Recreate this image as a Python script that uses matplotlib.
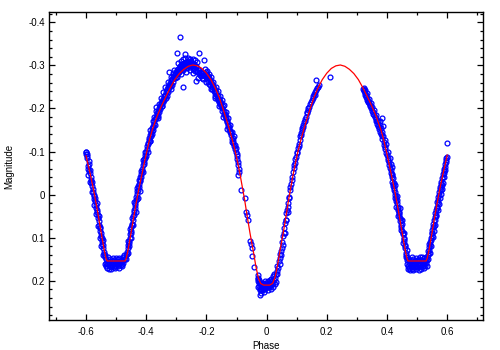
import matplotlib
matplotlib.use("Agg")
import matplotlib.pyplot as plt
from matplotlib.ticker import MultipleLocator, FuncFormatter

# ---------------- data ----------------
# model light curve (phase, magnitude)
model_phase = [-0.600, -0.594, -0.586, -0.576, -0.566, -0.557, -0.548, -0.540, -0.534, -0.530,
               -0.500, -0.470, -0.466, -0.460, -0.452, -0.443, -0.434, -0.424, -0.414, -0.406,
               -0.398, -0.390, -0.380, -0.365, -0.350, -0.335, -0.320, -0.305, -0.290, -0.275,
               -0.260, -0.245, -0.230, -0.215, -0.200, -0.185, -0.171, -0.157, -0.144, -0.135,
               -0.125, -0.115, -0.104, -0.096, -0.088, -0.080, -0.073, -0.065, -0.055, -0.045,
               -0.036, -0.028, -0.020, -0.010, 0.000, 0.010, 0.020, 0.028, 0.036, 0.045,
               0.055, 0.065, 0.073, 0.080, 0.088, 0.096, 0.104, 0.115, 0.125, 0.135,
               0.144, 0.157, 0.171, 0.185, 0.200, 0.215, 0.230, 0.245, 0.260, 0.275,
               0.290, 0.305, 0.320, 0.335, 0.350, 0.365, 0.380, 0.390, 0.398, 0.406,
               0.414, 0.424, 0.434, 0.443, 0.452, 0.460, 0.466, 0.470, 0.500, 0.530,
               0.534, 0.540, 0.548, 0.557, 0.566, 0.576, 0.586, 0.594, 0.600]
model_mag = [-0.090, -0.072, -0.048, -0.015, 0.022, 0.058, 0.095, 0.127, 0.147, 0.154,
             0.154, 0.154, 0.147, 0.127, 0.095, 0.058, 0.022, -0.015, -0.048, -0.075,
             -0.100, -0.125, -0.150, -0.180, -0.205, -0.227, -0.248, -0.267, -0.281, -0.291,
             -0.298, -0.301, -0.299, -0.293, -0.282, -0.267, -0.248, -0.225, -0.198, -0.178,
             -0.155, -0.130, -0.100, -0.074, -0.046, -0.015, 0.012, 0.048, 0.090, 0.128,
             0.165, 0.192, 0.206, 0.210, 0.210, 0.210, 0.206, 0.192, 0.165, 0.128,
             0.090, 0.048, 0.012, -0.015, -0.046, -0.074, -0.100, -0.130, -0.155, -0.178,
             -0.198, -0.225, -0.248, -0.267, -0.282, -0.293, -0.299, -0.301, -0.298, -0.291,
             -0.281, -0.267, -0.248, -0.227, -0.205, -0.180, -0.150, -0.125, -0.100, -0.075,
             -0.048, -0.015, 0.022, 0.058, 0.095, 0.127, 0.147, 0.154, 0.154, 0.154,
             0.147, 0.127, 0.095, 0.058, 0.022, -0.015, -0.048, -0.072, -0.092]

# observations, (phase, magnitude), grouped by branch of the light curve
obs_left_edge = [(-0.601,-0.098),(-0.600,-0.094),(-0.599,-0.100),(-0.598,-0.090),(-0.597,-0.095),(-0.596,-0.086),
    (-0.593,-0.060),(-0.592,-0.066),(-0.590,-0.055),(-0.589,-0.070),(-0.588,-0.050),(-0.586,-0.058),(-0.585,-0.040),
    (-0.583,-0.035),(-0.582,-0.028),(-0.580,-0.020),(-0.579,-0.030),(-0.577,-0.012),(-0.576,-0.005),(-0.575,0.002),
    (-0.573,0.000),(-0.572,0.010),(-0.570,0.015),(-0.569,0.008),(-0.567,0.025),(-0.566,0.032),(-0.565,0.020),
    (-0.563,0.040),(-0.562,0.035),(-0.560,0.048),(-0.559,0.055),(-0.558,0.062),(-0.557,0.050),(-0.556,0.070),
    (-0.555,0.075),(-0.553,0.078),(-0.552,0.085),(-0.551,0.095),(-0.550,0.090),(-0.548,0.100),(-0.547,0.108),
    (-0.546,0.115),(-0.545,0.105),(-0.543,0.118),(-0.542,0.125),(-0.541,0.132),(-0.540,0.138),(-0.538,0.145),(-0.537,0.140),
    (-0.594,-0.045),(-0.590,-0.078),(-0.588,-0.030),(-0.581,-0.005),(-0.574,0.025),(-0.568,0.045),(-0.561,0.072),
    (-0.554,0.100),(-0.549,0.120),(-0.544,0.140)]

obs_sec_min_left = [(-0.535,0.150),(-0.533,0.158),(-0.532,0.165),(-0.530,0.160),(-0.529,0.170),(-0.527,0.155),
    (-0.526,0.162),(-0.524,0.172),(-0.523,0.158),(-0.521,0.165),(-0.520,0.150),(-0.518,0.168),(-0.517,0.160),
    (-0.515,0.155),(-0.514,0.165),(-0.512,0.148),(-0.511,0.162),(-0.509,0.158),(-0.508,0.168),(-0.506,0.152),
    (-0.505,0.163),(-0.503,0.158),(-0.502,0.148),(-0.500,0.165),(-0.498,0.155),(-0.497,0.160),(-0.495,0.150),
    (-0.494,0.166),(-0.492,0.158),(-0.490,0.162),(-0.489,0.148),(-0.487,0.157),(-0.485,0.164),(-0.483,0.152),
    (-0.482,0.160),(-0.480,0.155),(-0.478,0.145),(-0.477,0.158),(-0.475,0.150),(-0.473,0.140),
    (-0.536,0.160),(-0.528,0.145),(-0.516,0.172),(-0.504,0.170),(-0.491,0.170),(-0.479,0.165),(-0.470,0.150)]

obs_rise_left = [(-0.468,0.140),(-0.466,0.150),(-0.465,0.132),(-0.463,0.138),(-0.461,0.125),(-0.460,0.118),
    (-0.458,0.120),(-0.457,0.108),(-0.456,0.112),(-0.454,0.100),(-0.453,0.092),(-0.452,0.085),(-0.450,0.088),
    (-0.449,0.075),(-0.448,0.070),(-0.446,0.068),(-0.445,0.058),(-0.444,0.050),(-0.442,0.048),(-0.441,0.040),
    (-0.440,0.035),(-0.438,0.030),(-0.437,0.020),(-0.436,0.025),(-0.434,0.012),(-0.433,0.005),(-0.432,0.010),
    (-0.430,-0.002),(-0.429,-0.008),(-0.427,-0.010),(-0.426,-0.020),(-0.424,-0.025),(-0.423,-0.018),(-0.421,-0.032),
    (-0.420,-0.040),(-0.419,-0.035),(-0.417,-0.048),(-0.416,-0.042),(-0.415,-0.055),(-0.413,-0.060),(-0.412,-0.052),
    (-0.410,-0.068),(-0.409,-0.075),(-0.407,-0.070),(-0.406,-0.082),(-0.404,-0.085),(-0.403,-0.092),(-0.401,-0.090),
    (-0.400,-0.098),(-0.398,-0.105),
    (-0.462,0.108),(-0.459,0.135),(-0.455,0.080),(-0.451,0.100),(-0.447,0.055),(-0.443,0.070),(-0.439,0.018),
    (-0.435,0.040),(-0.431,-0.015),(-0.428,0.008),(-0.425,-0.035),(-0.422,-0.008),(-0.418,-0.055),(-0.411,-0.080),
    (-0.405,-0.098)]

obs_rise_upper = [(-0.396,-0.112),(-0.395,-0.120),(-0.393,-0.118),(-0.392,-0.128),(-0.390,-0.132),(-0.389,-0.125),
    (-0.387,-0.138),(-0.385,-0.142),(-0.384,-0.135),(-0.382,-0.148),(-0.381,-0.155),(-0.379,-0.150),(-0.378,-0.160),
    (-0.376,-0.158),(-0.375,-0.165),(-0.373,-0.170),(-0.372,-0.162),(-0.370,-0.175),(-0.369,-0.180),(-0.368,-0.203),
    (-0.367,-0.178),(-0.365,-0.185),(-0.363,-0.190),(-0.362,-0.182),(-0.360,-0.195),(-0.358,-0.192),(-0.357,-0.200),
    (-0.355,-0.205),(-0.354,-0.198),(-0.352,-0.210),(-0.350,-0.212),(-0.349,-0.205),(-0.347,-0.218),(-0.345,-0.215),
    (-0.344,-0.222),(-0.342,-0.228),(-0.340,-0.220),(-0.339,-0.232),(-0.337,-0.230),(-0.335,-0.238),(-0.334,-0.225),
    (-0.332,-0.240),(-0.330,-0.245),(-0.329,-0.238),(-0.327,-0.250),(-0.325,-0.248),(-0.324,-0.285),(-0.323,-0.255),
    (-0.321,-0.252),(-0.320,-0.260),(-0.318,-0.258),(-0.316,-0.265),(-0.315,-0.255),(-0.313,-0.268),(-0.311,-0.272),
    (-0.310,-0.262),(-0.308,-0.275),(-0.306,-0.270),(-0.305,-0.280),(-0.303,-0.278),(-0.301,-0.272),
    (-0.394,-0.100),(-0.388,-0.150),(-0.386,-0.125),(-0.380,-0.140),(-0.377,-0.172),(-0.374,-0.180),(-0.366,-0.195),
    (-0.361,-0.178),(-0.359,-0.210),(-0.351,-0.225),(-0.346,-0.205),(-0.343,-0.238),(-0.336,-0.250),(-0.331,-0.228),
    (-0.326,-0.262),(-0.319,-0.272),(-0.317,-0.245),(-0.312,-0.283),(-0.307,-0.290)]

obs_max_left = [(-0.300,-0.285),(-0.299,-0.290),(-0.297,-0.328),(-0.296,-0.282),(-0.295,-0.292),(-0.293,-0.288),
    (-0.292,-0.295),(-0.290,-0.285),(-0.289,-0.298),(-0.288,-0.365),(-0.287,-0.290),(-0.285,-0.300),(-0.284,-0.292),
    (-0.282,-0.296),(-0.281,-0.304),(-0.279,-0.249),(-0.279,-0.290),(-0.277,-0.300),(-0.276,-0.306),(-0.274,-0.295),
    (-0.273,-0.302),(-0.271,-0.326),(-0.271,-0.298),(-0.269,-0.308),(-0.268,-0.300),(-0.266,-0.294),(-0.265,-0.306),
    (-0.263,-0.302),(-0.262,-0.310),(-0.260,-0.298),(-0.258,-0.305),(-0.257,-0.300),(-0.255,-0.308),(-0.253,-0.296),
    (-0.252,-0.303),(-0.250,-0.310),(-0.248,-0.298),(-0.247,-0.305),(-0.245,-0.292),(-0.243,-0.300),(-0.241,-0.295),
    (-0.240,-0.303),(-0.238,-0.288),(-0.236,-0.296),(-0.235,-0.290),(-0.233,-0.264),(-0.233,-0.298),(-0.231,-0.285),
    (-0.229,-0.292),(-0.226,-0.329),(-0.226,-0.282),(-0.224,-0.290),(-0.222,-0.278),(-0.220,-0.285),(-0.218,-0.275),
    (-0.216,-0.282),(-0.214,-0.270),(-0.212,-0.278),(-0.210,-0.268),(-0.208,-0.313),
    (-0.298,-0.272),(-0.294,-0.305),(-0.286,-0.310),(-0.283,-0.280),(-0.278,-0.315),(-0.270,-0.318),(-0.267,-0.285),
    (-0.261,-0.318),(-0.256,-0.290),(-0.254,-0.316),(-0.246,-0.315),(-0.244,-0.283),(-0.239,-0.312),(-0.232,-0.308),
    (-0.228,-0.270)]

obs_fall_mid = [(-0.206,-0.280),(-0.204,-0.275),(-0.203,-0.285),(-0.201,-0.272),(-0.199,-0.278),(-0.197,-0.268),
    (-0.196,-0.275),(-0.194,-0.262),(-0.192,-0.270),(-0.190,-0.258),(-0.189,-0.265),(-0.187,-0.255),(-0.185,-0.262),
    (-0.183,-0.250),(-0.182,-0.258),(-0.180,-0.245),(-0.178,-0.252),(-0.176,-0.240),(-0.175,-0.248),(-0.173,-0.235),
    (-0.171,-0.242),(-0.170,-0.230),(-0.168,-0.238),(-0.166,-0.225),(-0.164,-0.232),(-0.163,-0.220),(-0.161,-0.228),
    (-0.159,-0.215),(-0.157,-0.222),(-0.156,-0.210),(-0.154,-0.218),(-0.152,-0.205),(-0.150,-0.212),(-0.148,-0.200),
    (-0.147,-0.195),(-0.145,-0.205),(-0.143,-0.188),(-0.141,-0.195),(-0.139,-0.182),(-0.138,-0.188),(-0.136,-0.175),
    (-0.134,-0.180),(-0.132,-0.168),(-0.131,-0.172),(-0.129,-0.160),(-0.127,-0.165),(-0.125,-0.152),(-0.124,-0.158),
    (-0.122,-0.145),(-0.120,-0.148),(-0.118,-0.138),(-0.117,-0.142),(-0.115,-0.130),(-0.113,-0.132),(-0.111,-0.120),
    (-0.110,-0.125),(-0.108,-0.112),(-0.106,-0.115),(-0.105,-0.105),(-0.103,-0.108),
    (-0.205,-0.292),(-0.200,-0.262),(-0.198,-0.288),(-0.191,-0.280),(-0.186,-0.245),(-0.184,-0.272),(-0.177,-0.262),
    (-0.172,-0.225),(-0.169,-0.250),(-0.162,-0.240),(-0.158,-0.205),(-0.155,-0.228),(-0.149,-0.220),(-0.144,-0.180),
    (-0.142,-0.208),(-0.135,-0.192),(-0.130,-0.152),(-0.128,-0.178),(-0.121,-0.162),(-0.116,-0.122),(-0.114,-0.145),
    (-0.109,-0.135)]

obs_fall_low = [(-0.102,-0.098),(-0.100,-0.090),(-0.099,-0.095),(-0.097,-0.082),(-0.096,-0.075),(-0.095,-0.068),
    (-0.094,-0.046),(-0.093,-0.060),(-0.091,-0.052),(-0.085,-0.011),(-0.072,0.008),(-0.068,0.040),(-0.066,0.047),
    (-0.063,0.060),(-0.055,0.107),(-0.052,0.115),(-0.050,0.124),(-0.048,0.142),(-0.041,0.168),(-0.028,0.194)]

obs_prim_min = [(-0.030,0.195),(-0.029,0.186),(-0.028,0.200),(-0.026,0.205),(-0.025,0.212),(-0.024,0.198),
    (-0.022,0.218),(-0.021,0.208),(-0.021,0.232),(-0.020,0.215),(-0.019,0.229),(-0.018,0.220),(-0.017,0.205),
    (-0.016,0.212),(-0.015,0.222),(-0.014,0.210),(-0.013,0.218),(-0.012,0.204),(-0.011,0.214),(-0.010,0.220),
    (-0.008,0.208),(-0.007,0.215),(-0.006,0.212),(-0.005,0.200),(-0.004,0.218),(-0.002,0.210),(-0.001,0.205),
    (0.000,0.215),(0.002,0.208),(0.003,0.212),(0.004,0.200),(0.006,0.210),(0.007,0.205),(0.008,0.215),
    (0.010,0.208),(0.011,0.198),(0.012,0.212),(0.014,0.205),(0.015,0.195),(0.016,0.210),(0.018,0.200),
    (0.020,0.190),(0.022,0.205),(0.024,0.185),(0.025,0.198),
    (-0.027,0.215),(-0.023,0.222),(-0.009,0.225),(0.005,0.222),(0.013,0.220),(0.021,0.215),(0.027,0.208),(0.030,0.202)]

obs_rise_low = [(0.028,0.194),(0.030,0.185),(0.033,0.178),(0.036,0.165),(0.039,0.171),(0.041,0.155),(0.044,0.148),
    (0.046,0.138),(0.048,0.130),(0.050,0.124),(0.052,0.110),(0.055,0.097),(0.057,0.088),(0.058,0.078),(0.061,0.065),
    (0.063,0.058),(0.066,0.043),(0.068,0.035),(0.070,0.028),(0.072,0.020),(0.074,0.008),(0.077,-0.011),(0.079,-0.018),
    (0.081,-0.025),(0.083,-0.034),(0.085,-0.040),(0.088,-0.053),(0.090,-0.062),(0.092,-0.068),(0.094,-0.073),
    (0.096,-0.082),(0.098,-0.088),(0.100,-0.096),
    (0.035,0.185),(0.043,0.160),(0.049,0.140),(0.054,0.118),(0.060,0.090),(0.065,0.060),(0.071,0.040),(0.076,0.005)]

obs_rise_mid = [(0.102,-0.100),(0.104,-0.108),(0.106,-0.112),(0.108,-0.118),(0.110,-0.128),(0.111,-0.135),
    (0.113,-0.138),(0.115,-0.142),(0.117,-0.150),(0.119,-0.155),(0.121,-0.158),(0.122,-0.162),(0.124,-0.168),
    (0.126,-0.170),(0.128,-0.176),(0.130,-0.180),(0.133,-0.189),(0.135,-0.192),(0.137,-0.196),(0.139,-0.200),
    (0.142,-0.204),(0.144,-0.210),(0.147,-0.214),(0.150,-0.220),(0.153,-0.225),(0.155,-0.228),(0.158,-0.233),
    (0.160,-0.231),(0.162,-0.238),(0.164,-0.265),(0.165,-0.242),(0.168,-0.248),(0.171,-0.251),(0.173,-0.255),
    (0.210,-0.272)]

obs_fall_right = [(0.320,-0.245),(0.322,-0.248),(0.324,-0.240),(0.325,-0.243),(0.327,-0.243),(0.328,-0.236),
    (0.330,-0.226),(0.331,-0.232),(0.332,-0.220),(0.334,-0.225),(0.336,-0.218),(0.338,-0.215),(0.340,-0.212),
    (0.342,-0.205),(0.344,-0.208),(0.346,-0.200),(0.349,-0.204),(0.351,-0.195),(0.353,-0.192),(0.355,-0.188),
    (0.357,-0.185),(0.360,-0.181),(0.362,-0.175),(0.364,-0.170),(0.366,-0.172),(0.368,-0.165),(0.370,-0.160),
    (0.372,-0.158),(0.374,-0.152),(0.376,-0.162),(0.378,-0.170),(0.378,-0.145),(0.380,-0.140),(0.382,-0.177),
    (0.382,-0.135),(0.384,-0.130),(0.386,-0.160),(0.387,-0.135),(0.389,-0.122),(0.391,-0.115),(0.393,-0.110),
    (0.395,-0.105),(0.398,-0.096),(0.400,-0.092),(0.402,-0.085),(0.404,-0.080),(0.406,-0.075),(0.408,-0.068),
    (0.410,-0.062),(0.412,-0.058),(0.415,-0.065),(0.414,-0.050),
    (0.326,-0.232),(0.333,-0.235),(0.339,-0.222),(0.347,-0.212),(0.356,-0.196),(0.363,-0.186),(0.371,-0.170),
    (0.379,-0.155),(0.385,-0.145),(0.392,-0.128),(0.397,-0.118),(0.403,-0.100),(0.409,-0.085),(0.413,-0.072)]

obs_fall_low_right = [(0.416,-0.045),(0.417,-0.040),(0.418,-0.030),(0.419,-0.038),(0.420,-0.025),(0.421,-0.020),
    (0.422,-0.028),(0.423,-0.010),(0.424,-0.015),(0.425,-0.005),(0.427,0.000),(0.428,0.008),(0.429,0.005),
    (0.431,0.015),(0.432,0.020),(0.433,0.012),(0.435,0.028),(0.436,0.035),(0.437,0.030),(0.439,0.042),
    (0.440,0.048),(0.441,0.040),(0.443,0.055),(0.444,0.062),(0.445,0.058),(0.447,0.070),(0.448,0.075),
    (0.449,0.068),(0.451,0.085),(0.452,0.092),(0.453,0.088),(0.455,0.100),(0.456,0.108),(0.457,0.102),
    (0.459,0.118),(0.460,0.125),(0.461,0.120),(0.463,0.135),(0.464,0.140),(0.466,0.145),(0.467,0.152),
    (0.418,-0.048),(0.426,-0.022),(0.430,0.028),(0.434,0.002),(0.438,0.050),(0.442,0.030),(0.446,0.082),
    (0.450,0.058),(0.454,0.112),(0.458,0.090),(0.462,0.145),(0.465,0.128)]

obs_sec_min_right = [(0.468,0.160),(0.470,0.150),(0.471,0.165),(0.473,0.158),(0.474,0.170),(0.476,0.155),
    (0.477,0.162),(0.479,0.168),(0.480,0.152),(0.482,0.160),(0.483,0.172),(0.485,0.158),(0.486,0.165),
    (0.488,0.150),(0.489,0.162),(0.491,0.168),(0.492,0.155),(0.494,0.160),(0.495,0.148),(0.497,0.165),
    (0.498,0.158),(0.500,0.152),(0.501,0.168),(0.503,0.160),(0.504,0.155),(0.506,0.165),(0.507,0.150),
    (0.509,0.162),(0.510,0.158),(0.512,0.168),(0.513,0.152),(0.515,0.160),(0.516,0.145),(0.518,0.165),
    (0.519,0.155),(0.521,0.160),(0.522,0.148),(0.524,0.162),(0.525,0.155),(0.527,0.165),(0.528,0.150),
    (0.530,0.158),(0.531,0.145),(0.533,0.152),
    (0.469,0.172),(0.478,0.175),(0.484,0.145),(0.487,0.175),(0.496,0.172),(0.505,0.175),(0.511,0.145),
    (0.514,0.172),(0.523,0.170),(0.532,0.165)]

obs_right_edge = [(0.535,0.140),(0.536,0.130),(0.538,0.135),(0.539,0.122),(0.540,0.128),(0.541,0.115),
    (0.543,0.110),(0.544,0.118),(0.545,0.100),(0.546,0.105),(0.548,0.090),(0.549,0.095),(0.550,0.082),
    (0.551,0.088),(0.553,0.075),(0.554,0.068),(0.555,0.072),(0.557,0.058),(0.558,0.052),(0.559,0.060),
    (0.561,0.042),(0.562,0.048),(0.563,0.035),(0.565,0.028),(0.566,0.032),(0.567,0.018),(0.569,0.012),
    (0.570,0.020),(0.571,0.005),(0.573,0.000),(0.574,-0.005),(0.576,-0.012),(0.577,-0.018),(0.578,-0.010),
    (0.580,-0.025),(0.581,-0.030),(0.582,-0.022),(0.584,-0.038),(0.585,-0.042),(0.587,-0.048),(0.588,-0.055),
    (0.589,-0.050),(0.591,-0.060),(0.592,-0.065),(0.593,-0.070),(0.595,-0.075),(0.596,-0.080),(0.597,-0.085),
    (0.598,-0.088),(0.598,-0.119),
    (0.537,0.150),(0.542,0.135),(0.547,0.120),(0.552,0.098),(0.556,0.085),(0.560,0.070),(0.564,0.050),
    (0.568,0.035),(0.572,0.022),(0.575,0.008),(0.579,-0.002),(0.583,-0.012),(0.586,-0.028),(0.590,-0.040),
    (0.594,-0.058)]

x_label = "Phase"
y_label = "Magnitude"

# ---------------- plot ----------------
plt.rcParams['font.family'] = ['Liberation Sans', 'DejaVu Sans']

fig = plt.figure(figsize=(5.0, 3.5), dpi=100)
ax = fig.add_axes([49/500, 1-320/350, (483-49)/500, (320-12)/350])

all_obs = (obs_left_edge + obs_sec_min_left + obs_rise_left + obs_rise_upper + obs_max_left +
           obs_fall_mid + obs_fall_low + obs_prim_min + obs_rise_low + obs_rise_mid +
           obs_fall_right + obs_fall_low_right + obs_sec_min_right + obs_right_edge)
ox = [p[0] for p in all_obs]
oy = [p[1] for p in all_obs]

ax.plot(ox, oy, linestyle='none', marker='o', markersize=3.5, markerfacecolor='none',
        markeredgecolor='#0000ff', markeredgewidth=0.9, zorder=2)
ax.plot(model_phase, model_mag, color='#ff0000', linewidth=0.9, zorder=3)

ax.set_xlim(-0.723, 0.719)
ax.set_ylim(0.291, -0.424)

ax.xaxis.set_major_locator(MultipleLocator(0.2))
ax.xaxis.set_minor_locator(MultipleLocator(0.1))
ax.yaxis.set_major_locator(MultipleLocator(0.1))
ax.yaxis.set_minor_locator(MultipleLocator(0.02))

def fmt(v, pos):
    v = round(v, 2)
    if abs(v) < 1e-9:
        return "0"
    return ("%.1f" % v)

ax.xaxis.set_major_formatter(FuncFormatter(fmt))
ax.yaxis.set_major_formatter(FuncFormatter(fmt))

ax.tick_params(which='both', direction='in', top=True, right=True, colors='black', width=0.9)
ax.tick_params(which='major', length=4.0, labelsize=7)
ax.tick_params(axis='x', which='major', pad=5)
ax.tick_params(axis='y', which='major', pad=3)
ax.tick_params(which='minor', length=2.5)
for s in ax.spines.values():
    s.set_linewidth(1.0)

ax.set_xlabel(x_label, fontsize=7)
ax.set_ylabel(y_label, fontsize=7)
ax.xaxis.set_label_coords(0.5, -0.068)
ax.yaxis.set_label_coords(-0.0806, 0.5)

fig.savefig("out.png", dpi=100)
